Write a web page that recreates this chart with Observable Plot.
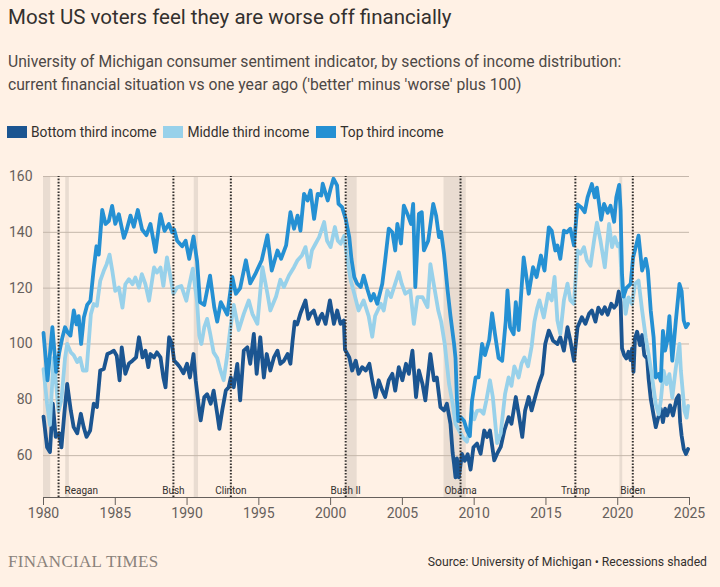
<!DOCTYPE html>
<html><head><meta charset="utf-8">
<script src="https://cdn.jsdelivr.net/npm/d3@7"></script>
<script src="https://cdn.jsdelivr.net/npm/@observablehq/plot@0.6"></script>
<style>
html,body{margin:0;padding:0;background:#fff1e5;}
#wrap{position:relative;width:720px;height:587px;background:#fff1e5;font-family:Roboto,"Noto Sans",sans-serif;color:#33302e;overflow:hidden}
#title{position:absolute;left:8px;top:3px;font-size:20.5px;line-height:28px;white-space:nowrap}
#sub{position:absolute;left:8px;top:50px;font-size:15.7px;line-height:23px;color:#4d4845;white-space:nowrap}
#legend{position:absolute;left:7px;top:123px;font-size:13.8px;line-height:18px;display:flex;align-items:center;white-space:nowrap}
.item{display:flex;align-items:center;margin-right:7px}
.sw{width:20px;height:12px;margin-right:4px}
#chart{position:absolute;left:0;top:150px}
#ft{position:absolute;left:8px;top:551px;font-family:"Liberation Serif","DejaVu Serif",serif;font-size:17px;line-height:22px;color:#8a827b;letter-spacing:0.3px}
#src{position:absolute;right:13px;top:553px;font-size:12.2px;line-height:18px;color:#33302e}
</style></head>
<body><div id="wrap">
<div id="title">Most US voters feel they are worse off financially</div>
<div id="sub">University of Michigan consumer sentiment indicator, by sections of income distribution:<br>current financial situation vs one year ago ('better' minus 'worse' plus 100)</div>
<div id="legend"></div>
<div id="chart"></div>
<div id="ft">FINANCIAL TIMES</div>
<div id="src">Source: University of Michigan • Recessions shaded</div>
</div>
<script>
const seriesNames = ["Bottom third income", "Middle third income", "Top third income"];
const seriesColors = ["#1b5591", "#98d1ea", "#2590d3"];

const bottomYears = [1980.0,1980.25,1980.45,1980.65,1980.85,1981.1,1981.25,1981.45,1981.65,1981.9,1982.1,1982.35,1982.6,1982.8,1983.0,1983.25,1983.5,1983.72,1983.95,1984.2,1984.45,1984.7,1984.9,1985.1,1985.3,1985.45,1985.7,1985.95,1986.2,1986.45,1986.65,1986.9,1987.1,1987.3,1987.45,1987.7,1987.9,1988.15,1988.35,1988.5,1988.75,1988.95,1989.1,1989.3,1989.5,1989.75,1990.0,1990.2,1990.45,1990.6,1990.85,1990.95,1991.2,1991.4,1991.65,1991.85,1992.1,1992.25,1992.45,1992.7,1992.9,1993.05,1993.25,1993.5,1993.7,1993.95,1994.2,1994.4,1994.65,1994.85,1995.1,1995.35,1995.55,1995.8,1996.05,1996.3,1996.5,1996.75,1997.0,1997.2,1997.35,1997.5,1997.67,1997.9,1998.25,1998.45,1998.6,1998.83,1999.11,1999.3,1999.41,1999.65,1999.95,2000.23,2000.46,2000.69,2000.92,2001.0,2001.3,2001.5,2001.75,2001.95,2002.2,2002.45,2002.7,2002.9,2003.13,2003.35,2003.6,2003.8,2004.05,2004.3,2004.5,2004.75,2005.0,2005.25,2005.45,2005.7,2005.95,2006.15,2006.4,2006.6,2006.95,2007.2,2007.4,2007.65,2007.9,2008.1,2008.35,2008.5,2008.6,2008.7,2008.8,2008.93,2009.15,2009.35,2009.55,2009.75,2009.95,2010.2,2010.45,2010.7,2010.9,2011.1,2011.4,2011.6,2011.85,2012.1,2012.4,2012.6,2012.9,2013.1,2013.35,2013.55,2013.8,2014.0,2014.25,2014.5,2014.75,2014.95,2015.2,2015.5,2015.8,2016.0,2016.25,2016.5,2016.7,2016.95,2017.2,2017.5,2017.75,2018.0,2018.2,2018.45,2018.65,2018.9,2019.1,2019.3,2019.55,2019.75,2019.9,2020.07,2020.2,2020.3,2020.45,2020.6,2020.75,2020.9,2021.0,2021.1,2021.2,2021.35,2021.55,2021.7,2021.85,2022.05,2022.15,2022.3,2022.5,2022.65,2022.8,2023.0,2023.15,2023.3,2023.45,2023.65,2023.85,2024.1,2024.25,2024.35,2024.45,2024.6,2024.75,2024.9];
const bottomValues = [74,63,61.3,78.6,66.7,68,63,75,85.7,76.2,70.2,68,75,70.2,66.7,69,78.6,77.4,90.5,91,96.4,97,97.6,95.8,87,98.8,89.3,93,94,95.2,102.4,95.2,97.6,91.7,96.4,95.2,97,95.2,88,84.5,102.4,100,94,93,91.7,89.5,92.9,88,96.4,87,76.2,72.6,81,82,78.6,83.3,75,69.6,76.2,83.3,84.5,88,84.5,92.9,79.8,97.6,98.8,92.9,103.6,89.3,102.4,88,96.4,90.5,95.2,97.6,92.9,94,96.4,92.9,101,108,107,111,115.6,109,110.8,112,107.2,110,110.8,107.2,115.6,107.2,112,107.2,108.4,98,95.2,90.5,94,89.3,91.7,90.5,92.9,87,81,87,83.3,81,87,89.3,83.3,91.7,87,92.9,89.3,97.6,81,90.5,85.7,79.8,96.4,87,88,77.4,76.2,78.6,71.4,61,57,52.2,59,52.2,60.6,58.2,60.5,55,63,64.3,60.7,69,66.7,69,58.3,60.7,63.1,69,73.8,71.4,81,75,66.7,76.2,81,76.2,81,85.7,89.3,100,104.8,101.2,100,102.4,97.6,106,101.2,94,106,109.6,107.2,110.8,112,108,113,110.8,113.2,110.5,114.4,113,114,118.8,115,98.4,96,94.8,97.2,94.2,98.4,90,102,104.4,99.6,103.2,96,94.8,87.6,80.4,74.4,70.2,73.2,76.8,72,76.8,74.4,78,74.4,80.4,81.6,72,67.2,62.4,60.6,62.4];

const middleYears = [1980.0,1980.25,1980.45,1980.7,1980.9,1981.05,1981.25,1981.5,1981.65,1981.9,1982.1,1982.35,1982.55,1982.75,1983.0,1983.3,1983.5,1983.72,1983.95,1984.2,1984.4,1984.6,1984.8,1985.0,1985.25,1985.5,1985.7,1985.95,1986.2,1986.4,1986.65,1986.85,1987.1,1987.35,1987.7,1987.9,1988.15,1988.35,1988.6,1988.85,1989.05,1989.3,1989.6,1989.95,1990.15,1990.4,1990.7,1990.85,1991.0,1991.2,1991.4,1991.6,1991.85,1992.1,1992.3,1992.55,1992.8,1993.0,1993.25,1993.6,1993.95,1994.3,1994.55,1994.9,1995.25,1995.6,1995.8,1996.2,1996.5,1996.75,1997.1,1997.45,1997.7,1998.0,1998.25,1998.5,1998.7,1998.95,1999.2,1999.55,1999.75,2000.0,2000.3,2000.5,2000.7,2000.95,2001.15,2001.4,2001.65,2001.95,2002.3,2002.65,2002.9,2003.1,2003.5,2003.7,2003.95,2004.2,2004.5,2004.75,2004.95,2005.2,2005.55,2005.8,2006.05,2006.4,2006.75,2006.95,2007.2,2007.5,2007.7,2007.95,2008.25,2008.5,2008.7,2008.95,2009.2,2009.5,2009.7,2009.85,2010.0,2010.2,2010.45,2010.65,2010.85,2011.1,2011.3,2011.6,2011.85,2012.15,2012.4,2012.6,2012.8,2013.1,2013.3,2013.5,2013.75,2014.0,2014.2,2014.4,2014.55,2014.85,2015.15,2015.4,2015.6,2015.8,2016.0,2016.25,2016.5,2016.7,2016.95,2017.2,2017.4,2017.65,2017.85,2018.1,2018.35,2018.55,2018.8,2019.1,2019.4,2019.6,2019.8,2020.0,2020.15,2020.3,2020.45,2020.55,2020.75,2021.0,2021.2,2021.45,2021.7,2021.95,2022.15,2022.4,2022.65,2022.85,2023.0,2023.2,2023.4,2023.6,2023.8,2024.05,2024.3,2024.4,2024.65,2024.8,2024.9];
const middleValues = [91,78.6,71,95,84.5,76,80,95,100,97,96,93.5,95,90.5,90.5,110.7,114.3,113.7,122.6,126.2,128.6,132,126,119,120.2,113,121.4,123.2,121.4,123.8,120.2,125,121.4,115.5,127.4,125.6,127.4,120.8,131,123.8,118,120.2,120.8,115.5,121,127,115,103,100,106,109,104,97,95,91,87,96,105,114,105,110.8,115.6,110.8,107.2,127.5,118,112,117,123,120.4,124.5,127.5,130,131.7,134.7,127.5,133.5,135.9,138.3,143.7,137,134.7,141.9,137,135.9,138.8,131,122.8,118,112,115.6,110,102.6,110,114.4,112,119.2,116.8,121.6,125.7,121.6,118,119.2,107.2,116.8,116.8,113.2,128.6,121,112,108,100,85.7,78.6,71.4,69,66.6,65,70,76,73,76,76.2,75,79.8,87,81,64.5,68,82,88,85,92,88,93,95.2,92,99,108,113,115.6,109.5,118,115.6,124,108.4,103.6,115.6,121.6,115.6,114.4,133.5,132.3,134.7,130,128,137,143.5,137,127.5,143,134.7,138.3,135,136,120,116.7,110.8,116.7,114.3,121.5,122.7,112,102.4,96.4,88,78.4,74.8,79.6,90.4,85.6,89.2,80.8,91.6,100,90.4,76,73.6,77.8];

const topYears = [1980.0,1980.28,1980.62,1980.88,1981.1,1981.3,1981.5,1981.7,1981.88,1982.11,1982.3,1982.45,1982.62,1982.81,1983.04,1983.27,1983.5,1983.69,1983.85,1984.09,1984.32,1984.55,1984.78,1985.0,1985.25,1985.6,1985.8,1986.06,1986.29,1986.57,1986.87,1987.17,1987.45,1987.8,1988.15,1988.43,1988.73,1988.96,1989.1,1989.31,1989.66,1989.9,1990.15,1990.45,1990.7,1990.9,1991.2,1991.6,1991.9,1992.1,1992.35,1992.55,1992.8,1993.15,1993.4,1993.7,1994.1,1994.4,1994.75,1995.2,1995.6,1995.9,1996.3,1996.55,1996.9,1997.2,1997.45,1997.7,1997.9,1998.15,1998.4,1998.6,1998.85,1999.1,1999.35,1999.45,1999.8,2000.0,2000.2,2000.45,2000.55,2000.8,2001.05,2001.3,2001.45,2001.65,2001.85,2002.1,2002.3,2002.55,2002.8,2003.0,2003.25,2003.6,2003.8,2004.05,2004.3,2004.5,2004.65,2004.9,2005.1,2005.35,2005.6,2005.75,2005.9,2006.15,2006.35,2006.5,2006.8,2007.15,2007.35,2007.55,2007.7,2007.9,2008.15,2008.35,2008.6,2008.7,2008.8,2008.9,2009.05,2009.3,2009.5,2009.7,2009.85,2010.1,2010.3,2010.55,2010.75,2011.05,2011.25,2011.45,2011.7,2011.95,2012.2,2012.32,2012.5,2012.75,2012.9,2013.1,2013.45,2013.8,2014.1,2014.35,2014.65,2014.9,2015.2,2015.4,2015.65,2015.8,2016.0,2016.25,2016.45,2016.7,2016.95,2017.2,2017.45,2017.7,2017.9,2018.2,2018.4,2018.55,2018.85,2019.05,2019.3,2019.5,2019.75,2019.9,2020.1,2020.2,2020.3,2020.4,2020.6,2020.9,2021.07,2021.25,2021.45,2021.7,2021.95,2022.1,2022.3,2022.5,2022.65,2022.85,2023.0,2023.15,2023.3,2023.45,2023.6,2023.8,2024.05,2024.3,2024.45,2024.6,2024.75,2024.9];
const topValues = [104,87,106,90,97,102,106,104,103,112,107,110,100,109.5,114,115.5,127,135,132,148,143,144,149.5,143,146.5,138,141,146,142,148,141,139,143,133,146.5,140.5,143,140,141,137,135,137,130.5,138.5,129.6,115,114,124.5,113,108,115,113,110.5,124,118,120,130,121.7,125,130,139,126.3,133.5,130.5,135.3,147.2,141.3,146,140.6,153.8,151.4,155,144.8,153.8,153.2,157.4,151.4,155.6,159.2,156.8,150.2,149,144.8,138.3,130.5,123.9,121.6,120.4,124.5,119.8,115.6,117.9,114.4,121.6,130,141.3,140,133.5,143,136,149.6,146.6,143,150.2,120.4,146.6,147.2,133.5,137,150.2,146,138.3,140.1,132.3,119.2,110,100,95,80,72.4,73.8,72.4,69,67,79.6,88,88,100,96,101.5,111,103.6,95,94,108.3,119.2,106,103.5,115,105,131,118,127.5,124,131.7,126.3,141.8,140.6,133.5,135.3,130.5,140.6,140,141.3,135.3,150,149,147.2,152.5,157.3,152.5,156,144.5,150.2,147,149.5,143.8,152.5,157,148,125,117,120,121.5,131,134.6,138.8,126.3,130.5,126.3,112,102.4,88,89.2,86.8,104.7,97.6,101.2,110,94,108.4,121.5,119,108.4,106,107.2];

const recessionStart = [1980.0, 1981.55, 1990.5, 2001.15, 2007.9, 2020.15];
const recessionEnd   = [1980.5, 1981.8, 1990.8, 2001.85, 2009.45, 2020.35];

const presidentNames = ["Reagan", "Bush", "Clinton", "Bush II", "Obama", "Trump", "Biden"];
const presidentYears = [1981.05, 1989.05, 1993.05, 2001.05, 2009.05, 2017.05, 2021.05];

const yTicks = [60, 80, 100, 120, 140, 160];
const xTicks = [1980, 1985, 1990, 1995, 2000, 2005, 2010, 2015, 2020, 2025];

// legend
const legend = document.getElementById("legend");
seriesNames.forEach((n, i) => {
  const it = document.createElement("div"); it.className = "item";
  const sw = document.createElement("div"); sw.className = "sw"; sw.style.background = seriesColors[i];
  const tx = document.createElement("span"); tx.textContent = n;
  it.appendChild(sw); it.appendChild(tx); legend.appendChild(it);
});

const rows = [];
[[bottomYears, bottomValues], [middleYears, middleValues], [topYears, topValues]].forEach(([ys, vs], i) => {
  ys.forEach((y, j) => rows.push({series: seriesNames[i], year: y, value: vs[j]}));
});
const recessions = recessionStart.map((s, i) => ({start: s, end: recessionEnd[i]}));
const presidents = presidentNames.map((n, i) => ({name: n, year: presidentYears[i]}));

const chart = Plot.plot({
  width: 720, height: 382,
  marginLeft: 43, marginRight: 31, marginTop: 26, marginBottom: 35,
  style: {background: "transparent", fontFamily: "Roboto, 'Noto Sans', sans-serif", color: "#66605c"},
  x: {type: "linear", domain: [1980, 2025]},
  y: {domain: [45, 160]},
  color: {domain: seriesNames, range: seriesColors},
  marks: [
    Plot.rect(recessions, {x1: "start", x2: "end", y1: 45, y2: 160, fill: "#e9dcd1"}),
    Plot.gridY(yTicks, {stroke: "#c5b7ab", strokeOpacity: 1, strokeWidth: 1}),
    Plot.axisY(yTicks, {tickSize: 0, tickPadding: 11, fontSize: 14, label: null}),
    Plot.axisX(xTicks, {tickSize: 8, tickPadding: 3, fontSize: 14, tickFormat: d => String(d), label: null, stroke: "#66605c"}),
    Plot.ruleY([45], {stroke: "#66605c", strokeWidth: 1}),
    Plot.lineY(rows, {x: "year", y: "value", z: "series", stroke: "series", strokeWidth: 3.8, strokeLinejoin: "round", strokeLinecap: "round"}),
    Plot.ruleX(presidents, {x: "year", y1: 45, y2: 160, stroke: "#33302e", strokeWidth: 2, strokeDasharray: "1.6,1.6"}),
    Plot.text(presidents.filter(d => d.name === "Reagan"), {x: "year", y: 47.5, text: "name", textAnchor: "start", dx: 6, fontSize: 10, fill: "#33302e"}),
    Plot.text(presidents.filter(d => d.name !== "Reagan"), {x: "year", y: 47.5, text: "name", textAnchor: "middle", fontSize: 10, fill: "#33302e"})
  ]
});
document.getElementById("chart").appendChild(chart);
</script>
</body></html>
